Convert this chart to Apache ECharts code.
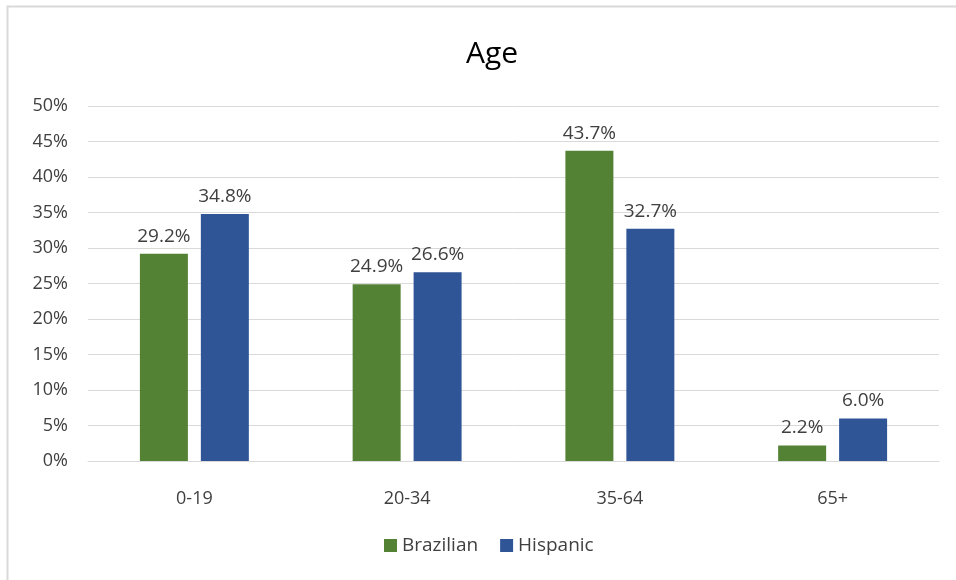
<!DOCTYPE html>
<html><head><meta charset="utf-8">
<script src="https://cdn.jsdelivr.net/npm/echarts@6/dist/echarts.min.js"></script>
<style>html,body{margin:0;padding:0;background:#fff}#c{width:956px;height:580px}</style>
</head><body><div id="c"></div>
<script>
var categories = ['0-19', '20-34', '35-64', '65+'];
var brazilian = [29.2, 24.9, 43.7, 2.2];
var hispanic = [34.8, 26.6, 32.7, 6.0];
var seriesNames = ['Brazilian', 'Hispanic'];
var titleText = 'Age';

var font = 'Open Sans';
var chart = echarts.init(document.getElementById('c'));
function lbl() {
  return {show: true, position: 'top', distance: 8, color: '#404040', fontSize: 19, fontFamily: font,
    formatter: function (p) { return p.value.toFixed(1) + '%'; }};
}
chart.setOption({
  animation: false,
  graphic: [{type: 'rect', shape: {x: 7.5, y: 6.5, width: 1200, height: 1200},
    style: {fill: 'none', stroke: '#d9d9d9', lineWidth: 2}, silent: true}],
  title: {text: titleText, left: 487, top: 34, textAlign: 'center',
    textStyle: {fontFamily: font, fontSize: 30, fontWeight: 'normal', color: '#000'}},
  legend: {bottom: 20, left: 379, itemWidth: 13, itemHeight: 13, itemGap: 22,
    icon: 'rect', textStyle: {fontFamily: font, fontSize: 19, color: '#404040'}},
  grid: {left: 88, right: 17, top: 106, bottom: 119, containLabel: false},
  xAxis: {type: 'category', data: categories,
    axisLine: {lineStyle: {color: '#d9d9d9', width: 1}}, axisTick: {show: false},
    axisLabel: {fontFamily: font, fontSize: 18, color: '#404040', margin: 29}},
  yAxis: {type: 'value', min: 0, max: 50, interval: 5,
    axisLabel: {formatter: '{value}%', fontFamily: font, fontSize: 18, color: '#404040', margin: 20},
    axisLine: {show: false}, axisTick: {show: false},
    splitLine: {lineStyle: {color: '#d9d9d9', width: 1}}},
  series: [
    {name: seriesNames[0], type: 'bar', data: brazilian, barWidth: 48, barGap: '27%',
      itemStyle: {color: '#548235'}, label: lbl()},
    {name: seriesNames[1], type: 'bar', data: hispanic, barWidth: 48,
      itemStyle: {color: '#2F5597'}, label: lbl()}
  ]
});
</script></body></html>
